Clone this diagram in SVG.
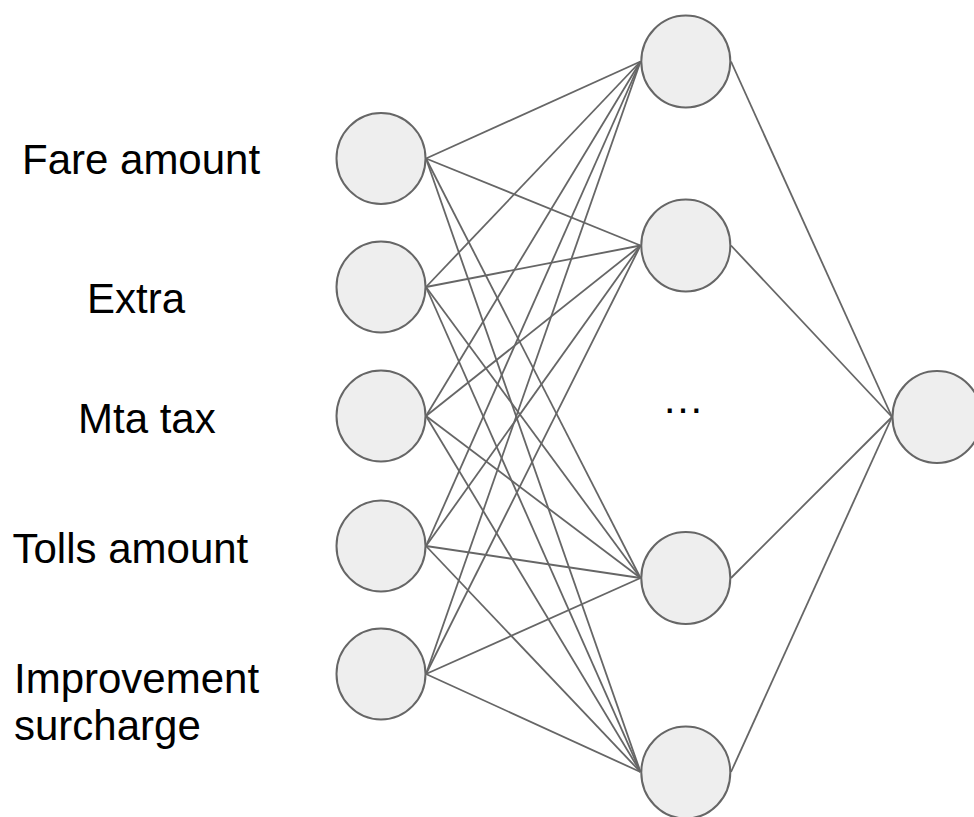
<svg xmlns="http://www.w3.org/2000/svg" width="974" height="817" viewBox="0 0 974 817">
  <style>
    .node { fill: #eeeeee; stroke: #666666; stroke-width: 2; }
    .edge { stroke: #666666; stroke-width: 1.8; fill: none; }
    .label { font-family: "Liberation Sans", Arial, sans-serif; font-size: 42px; fill: #000000; }
  </style>
  <rect width="974" height="817" fill="#ffffff"/>

  <!-- connectors: every input to every hidden unit, every hidden unit to the output -->
  <g id="edges" class="edge">
    <!-- from Fare amount -->
    <line x1="426" y1="158.5" x2="640.5" y2="61.5"/>
    <line x1="426" y1="158.5" x2="640.5" y2="245.5"/>
    <line x1="426" y1="158.5" x2="640.5" y2="578"/>
    <line x1="426" y1="158.5" x2="640.5" y2="772"/>
    <!-- from Extra -->
    <line x1="426" y1="287" x2="640.5" y2="61.5"/>
    <line x1="426" y1="287" x2="640.5" y2="245.5"/>
    <line x1="426" y1="287" x2="640.5" y2="578"/>
    <line x1="426" y1="287" x2="640.5" y2="772"/>
    <!-- from Mta tax -->
    <line x1="426" y1="416" x2="640.5" y2="61.5"/>
    <line x1="426" y1="416" x2="640.5" y2="245.5"/>
    <line x1="426" y1="416" x2="640.5" y2="578"/>
    <line x1="426" y1="416" x2="640.5" y2="772"/>
    <!-- from Tolls amount -->
    <line x1="426" y1="546" x2="640.5" y2="61.5"/>
    <line x1="426" y1="546" x2="640.5" y2="245.5"/>
    <line x1="426" y1="546" x2="640.5" y2="578"/>
    <line x1="426" y1="546" x2="640.5" y2="772"/>
    <!-- from Improvement surcharge -->
    <line x1="426" y1="674" x2="640.5" y2="61.5"/>
    <line x1="426" y1="674" x2="640.5" y2="245.5"/>
    <line x1="426" y1="674" x2="640.5" y2="578"/>
    <line x1="426" y1="674" x2="640.5" y2="772"/>
    <!-- hidden to output -->
    <line x1="731" y1="61.5" x2="892" y2="417"/>
    <line x1="731" y1="245.5" x2="892" y2="417"/>
    <line x1="731" y1="578" x2="892" y2="417"/>
    <line x1="731" y1="772" x2="892" y2="417"/>
  </g>

  <!-- input layer -->
  <g id="input-fare-amount">
    <ellipse class="node" cx="381" cy="158.5" rx="44.5" ry="45.5"/>
    <text class="label" x="22" y="174">Fare amount</text>
  </g>
  <g id="input-extra">
    <ellipse class="node" cx="381" cy="287" rx="44.5" ry="45.5"/>
    <text class="label" x="87" y="312.5">Extra</text>
  </g>
  <g id="input-mta-tax">
    <ellipse class="node" cx="381" cy="416" rx="44.5" ry="45.5"/>
    <text class="label" x="78" y="433">Mta tax</text>
  </g>
  <g id="input-tolls-amount">
    <ellipse class="node" cx="381" cy="546" rx="44.5" ry="45.5"/>
    <text class="label" x="12.5" y="563">Tolls amount</text>
  </g>
  <g id="input-improvement-surcharge">
    <ellipse class="node" cx="381" cy="674" rx="44.5" ry="45.5"/>
    <text class="label" x="14" y="692.5">Improvement</text>
    <text class="label" x="14" y="740">surcharge</text>
  </g>

  <!-- hidden layer -->
  <g id="hidden-1">
    <ellipse class="node" cx="685.8" cy="61.5" rx="44.5" ry="46"/>
  </g>
  <g id="hidden-2">
    <ellipse class="node" cx="685.8" cy="245.5" rx="44.5" ry="46"/>
  </g>
  <g id="hidden-ellipsis">
    <text class="label" x="662" y="413">…</text>
  </g>
  <g id="hidden-3">
    <ellipse class="node" cx="685.8" cy="578" rx="44.5" ry="46"/>
  </g>
  <g id="hidden-4">
    <ellipse class="node" cx="685.8" cy="772.5" rx="44.5" ry="46"/>
  </g>

  <!-- output layer -->
  <g id="output">
    <ellipse class="node" cx="937" cy="417" rx="44.5" ry="46"/>
  </g>
</svg>
